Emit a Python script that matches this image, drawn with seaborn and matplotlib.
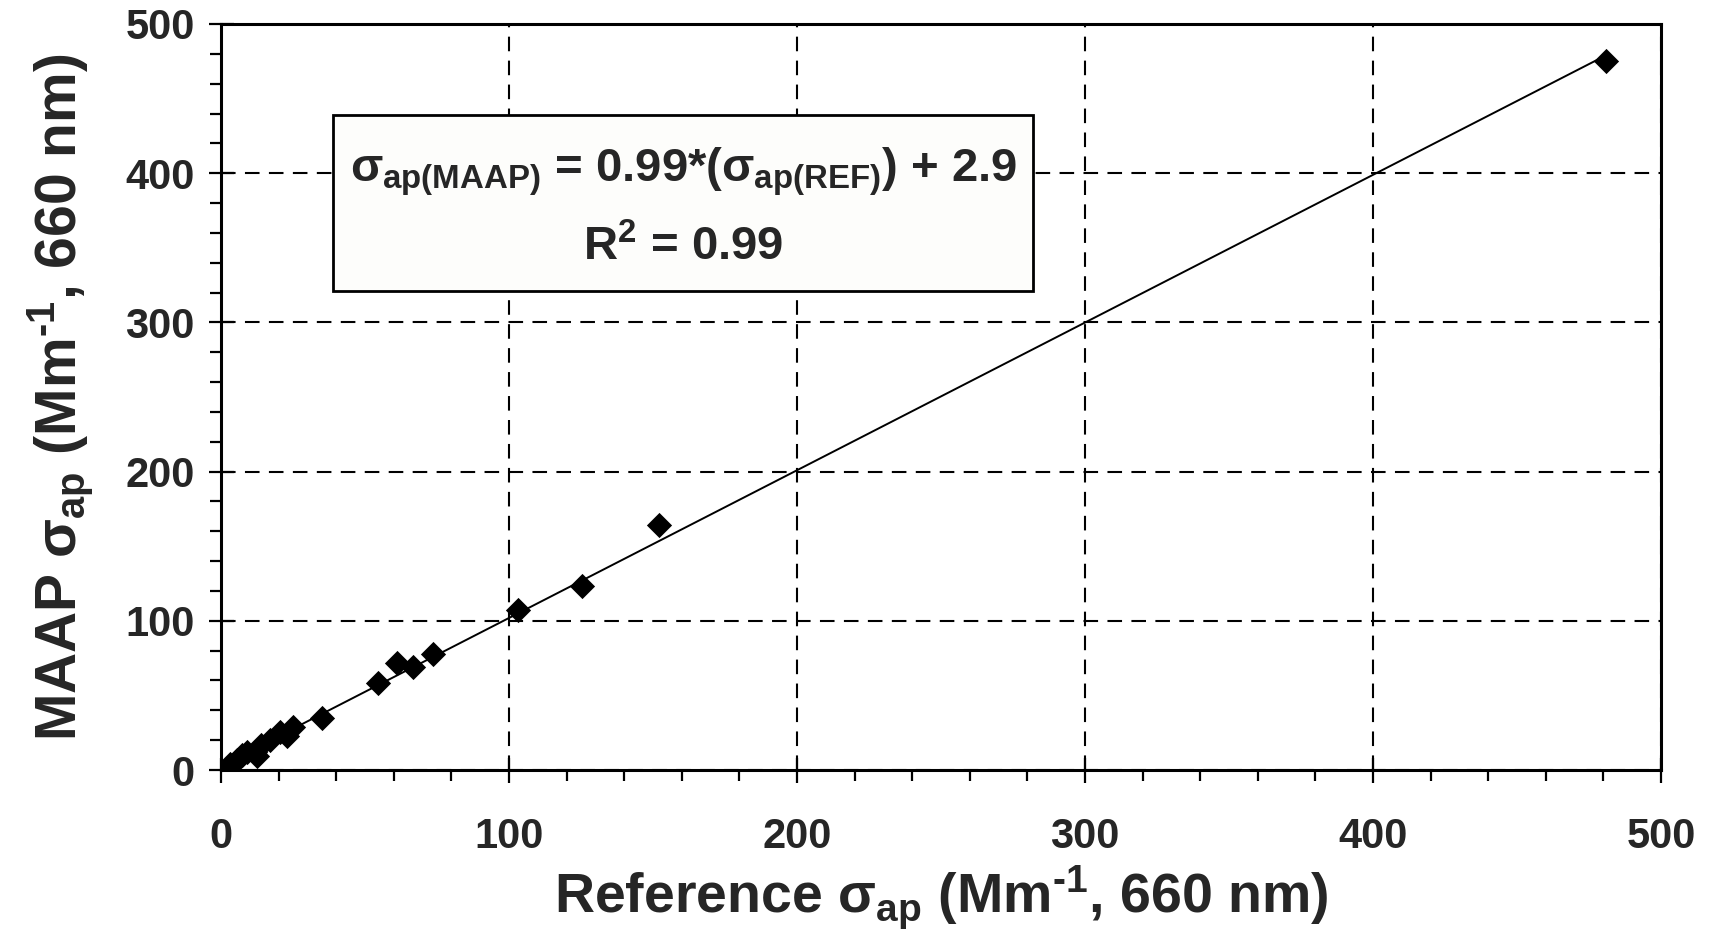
import matplotlib
matplotlib.use("Agg")
import matplotlib.pyplot as plt
import seaborn as sns
import numpy as np
import pandas as pd
from matplotlib.ticker import MultipleLocator

# ---- data ----
ref_sigma = [481, 152, 125.5, 103, 73.7, 66.8, 61, 54.6, 35, 25.1, 22.8, 20.5,
             17, 14, 11.8, 12.4, 9, 7.2, 5.4, 3, 2, 1.5]
maap_sigma = [475, 164, 123.5, 107, 78, 69.3, 71.5, 58, 35, 29, 23, 25.7,
              20, 17, 12.3, 9.4, 12, 10, 6.7, 4, 1.1, -1]
fit_slope = 0.99
fit_intercept = 2.9
x_ticks = [0, 100, 200, 300, 400, 500]
y_ticks = [0, 100, 200, 300, 400, 500]
eq_text = r"$\sigma_{\mathregular{ap(MAAP)}}$ = 0.99*($\sigma_{\mathregular{ap(REF)}}$) + 2.9"
r2_text = r"R$^{\mathregular{2}}$ = 0.99"
xlabel = r"Reference $\sigma_{\mathregular{ap}}$ (Mm$^{\text{-}\mathregular{1}}$, 660 nm)"
ylabel = r"MAAP $\sigma_{\mathregular{ap}}$ (Mm$^{\text{-}\mathregular{1}}$, 660 nm)"

df = pd.DataFrame({"ref": ref_sigma, "maap": maap_sigma})
fit_x = np.array([min(ref_sigma), max(ref_sigma)])
fit_df = pd.DataFrame({"x": fit_x, "y": fit_slope * fit_x + fit_intercept})

sns.set_theme(style="white")
plt.rcParams["font.family"] = ["Liberation Sans", "DejaVu Sans"]
plt.rcParams["font.weight"] = "bold"
plt.rcParams["mathtext.fontset"] = "custom"
plt.rcParams["mathtext.rm"] = "Liberation Sans:bold"
plt.rcParams["mathtext.it"] = "Liberation Sans:bold"
plt.rcParams["mathtext.bf"] = "Liberation Sans:bold"
plt.rcParams["mathtext.sf"] = "Liberation Sans:bold"

fig = plt.figure(figsize=(17.11, 9.36), dpi=100)
ax = fig.add_axes([221/1711, 1-770/936, (1661-221)/1711, (770-24)/936])

sns.lineplot(data=fit_df, x="x", y="y", ax=ax, color="black", lw=1.4, zorder=3)
sns.scatterplot(data=df, x="ref", y="maap", ax=ax, marker="D", s=165,
                color="black", edgecolor="black", linewidth=0, zorder=4)

ax.set_xlim(0, 500)
ax.set_ylim(0, 500)
ax.set_xticks(x_ticks)
ax.set_yticks(y_ticks)
ax.xaxis.set_minor_locator(MultipleLocator(20))
ax.yaxis.set_minor_locator(MultipleLocator(20))
ax.grid(True, which="major", color="black", linestyle=(0, (7, 4.5)), lw=1.5)
ax.set_axisbelow(True)

for s in ax.spines.values():
    s.set_color("black")
    s.set_linewidth(2.2)
    s.set_visible(True)

ax.tick_params(which="major", direction="inout", length=18, width=1.6, color="black",
               labelsize=30, bottom=True, left=True)
ax.tick_params(axis="x", which="major", pad=25)
ax.tick_params(axis="y", which="major", pad=10)
ax.tick_params(which="minor", direction="out", length=8, width=1.6, color="black",
               bottom=True, left=True)
for lab in ax.get_xticklabels() + ax.get_yticklabels():
    lab.set_fontweight("bold")

ax.set_xlabel(xlabel, fontsize=40, fontweight="bold", labelpad=5)
ax.set_ylabel(ylabel, fontsize=41, fontweight="bold", labelpad=22)

# equation box
ax.add_patch(plt.Rectangle((39, 321), 243, 118, facecolor="#fdfdfb", edgecolor="black",
                           lw=2, zorder=5))
ax.text(160.5, 401, eq_text, ha="center", va="center", fontsize=34, fontweight="bold", zorder=6)
ax.text(160.5, 350, r2_text, ha="center", va="center", fontsize=34, fontweight="bold", zorder=6)

fig.savefig("out.png", dpi=100)
